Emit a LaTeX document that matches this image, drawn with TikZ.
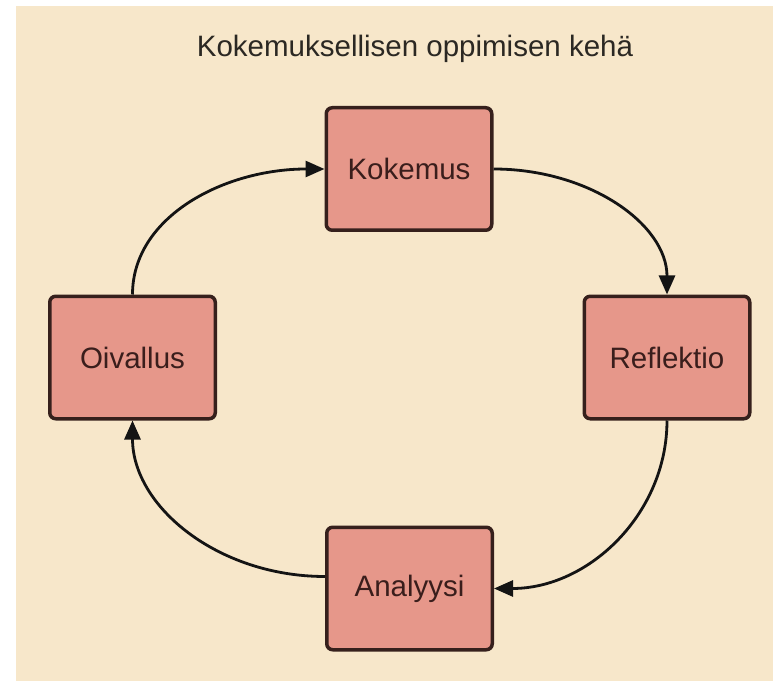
\documentclass[tikz,border=0pt]{standalone}
\usepackage{fontspec}
\setmainfont{Liberation Sans}
\usetikzlibrary{arrows.meta}
\definecolor{bgbeige}{HTML}{F7E7CA}
\definecolor{boxfill}{HTML}{E6978A}
\definecolor{boxline}{HTML}{36201C}
\definecolor{labeltext}{HTML}{3A1E1C}
\definecolor{titletext}{HTML}{2B2823}
\tikzset{
  stagebox/.style={draw=boxline, fill=boxfill, line width=3.5pt, rounded corners=6pt,
    minimum width=165.5pt, minimum height=122.5pt, inner sep=0pt,
    font=\fontsize{29.5}{33}\selectfont, text=labeltext},
  flow/.style={draw=black!92, line width=2.8pt, -{Triangle[length=19pt,width=16pt]}},
}
\begin{document}
\begin{tikzpicture}[x=1pt,y=1pt]
\useasboundingbox (0,0) rectangle (773,681);
\fill[white] (0,0) rectangle (773,681);
\fill[bgbeige] (16,0) rectangle (773,675);
\node[anchor=base, font=\fontsize{29.5}{33}\selectfont, text=titletext] (title) at (415,624) {Kokemuksellisen oppimisen kehä};
\node[stagebox] (K) at (409,512) {Kokemus};
\node[stagebox] (R) at (667,323.5) {Reflektio};
\node[stagebox] (O) at (132.5,323.5) {Oivallus};
\node[stagebox] (A) at (409.5,92.5) {Analyysi};
\coordinate (Aw) at ([yshift=12pt]A.west);
\draw[flow] (K.east) .. controls +(96,0) and +(0,70) .. (R.north);
\draw[flow] (R.south) .. controls +(0,-93) and +(95,0) .. (A.east);
\draw[flow] (Aw) .. controls +(-107,0) and +(0,-86) .. (O.south);
\draw[flow] (O.north) .. controls +(0,78) and +(-100,0) .. (K.west);
\end{tikzpicture}
\end{document}
